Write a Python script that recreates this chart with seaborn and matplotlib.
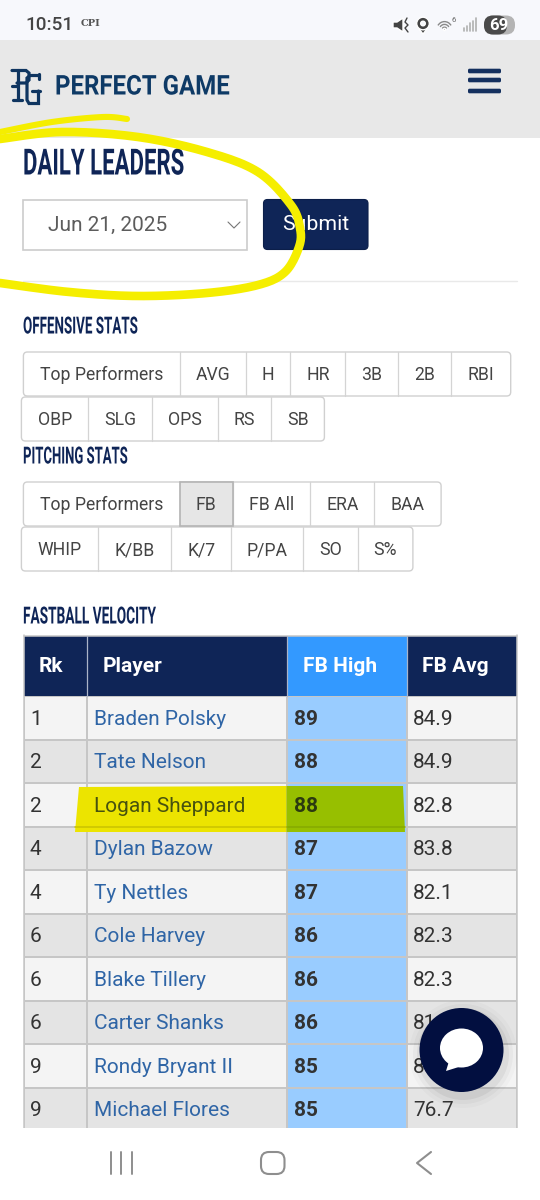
import numpy as np
import seaborn as sns
import matplotlib
matplotlib.use("Agg")
import matplotlib.pyplot as plt
from matplotlib.colors import ListedColormap
from matplotlib.patches import Arc, Circle, Ellipse, FancyBboxPatch, Polygon, Rectangle
from matplotlib.patheffects import AbstractPathEffect
from matplotlib.transforms import Affine2D

# table data
ranks = ["1", "2", "2", "4", "4", "6", "6", "6", "9", "9"]
players = ["Braden Polsky", "Tate Nelson", "Logan Sheppard", "Dylan Bazow", "Ty Nettles",
           "Cole Harvey", "Blake Tillery", "Carter Shanks", "Rondy Bryant II", "Michael Flores"]
fb_high = [89, 88, 88, 87, 87, 86, 86, 86, 85, 85]
fb_avg = [84.9, 84.9, 82.8, 83.8, 82.1, 82.3, 82.3, 81.9, 80.5, 76.7]
table_headers = ["Rk", "Player", "FB High", "FB Avg"]

# button labels
offense_1 = ["Top Performers", "AVG", "H", "HR", "3B", "2B", "RBI"]
offense_2 = ["OBP", "SLG", "OPS", "RS", "SB"]
pitching_1 = ["Top Performers", "FB", "FB All", "ERA", "BAA"]
pitching_2 = ["WHIP", "K/BB", "K/7", "P/PA", "SO", "S%"]

# layout, in screen pixels
col_edges = [23.5, 87, 286.5, 406.5, 517]
header_x = [39, 103, 303, 422]
header_top, body_top, row_h, body_bottom = 636, 696, 43.5, 1128
offense_1_edges = [23.4, 179.8, 245.5, 290.3, 345.4, 398.4, 451.1, 510.7]
offense_2_edges = [21.4, 88.2, 151.5, 217.6, 271.3, 324.4]
pitching_1_edges = [23.4, 179.8, 232.8, 310.3, 374.3, 441.1]
pitching_2_edges = [21.4, 98.1, 170.8, 231.4, 303.4, 358.1, 412.9]

stroke_top = [(127, 119), (103, 117), (52, 122), (0, 132)]
stroke_loop = [(0, 139), (62, 132), (138, 137), (207, 152), (258, 172), (291, 205), (300, 228),
               (299, 247), (285, 272), (258, 285), (207, 293), (138, 296), (69, 292), (0, 283)]

# logo strokes
logo_p = [[(12, 70.5), (26, 70.5), (29, 73), (29, 80), (26, 83), (17, 83)],
          [(17.5, 70), (17.5, 100)], [(13, 100), (22, 100)], [(12, 86), (17, 86)]]
logo_g = [[(39, 75.5), (30, 75.5), (27, 78), (27, 100), (29, 103.5), (38.5, 103.5), (38.5, 91)],
          [(32, 91), (39.5, 91)], [(38.5, 74), (38.5, 79)]]

NAVY = "#0f2557"
HI_BLUE = "#3399ff"
COL_BLUE = "#99ccff"
TEXT = "#333333"
LINK = "#2f65a6"
GRID = "#c6c6c6"
YELLOW = "#f5ee00"
BODY_SIZE = 15.0

sns.set_theme(style="white")
plt.rcParams["font.family"] = ["Roboto", "DejaVu Sans"]

fig = plt.figure(figsize=(5.4, 12), dpi=100, facecolor="white")
ax = fig.add_axes([0, 0, 1, 1], zorder=5)
ax.set_xlim(0, 540)
ax.set_ylim(1200, 0)
ax.axis("off")
renderer = fig.canvas.get_renderer()


class Squeeze(AbstractPathEffect):
    """narrow a text horizontally, the site uses a condensed web font"""
    def __init__(self, sx, x0):
        super().__init__()
        self.tr = Affine2D().translate(-x0, 0).scale(sx, 1).translate(x0, 0)

    def draw_path(self, renderer, gc, tpath, affine, rgbFace=None):
        renderer.draw_path(gc, tpath, affine + self.tr, rgbFace)


def heading(x, y, s, size, width, color=NAVY):
    t = ax.text(x, y, s, fontsize=size, fontweight="bold", color=color, va="center", ha="left", zorder=6)
    sx = width / t.get_window_extent(renderer).width
    t.set_path_effects([Squeeze(sx, x)])
    return t


def smooth(points, n=12):
    # catmull-rom through the hand drawn points
    p = np.array(points, dtype=float)
    p = np.vstack([p[0], p, p[-1]])
    out = []
    for i in range(1, len(p) - 2):
        for t in np.linspace(0, 1, n, endpoint=False):
            out.append(0.5 * (2 * p[i] + (p[i + 1] - p[i - 1]) * t
                              + (2 * p[i - 1] - 5 * p[i] + 4 * p[i + 1] - p[i + 2]) * t ** 2
                              + (3 * p[i] - p[i - 1] - 3 * p[i + 1] + p[i + 2]) * t ** 3))
    out.append(p[-1])
    return np.array(out)


def button_group(labels, edges, top, active=None):
    h = 44
    box = FancyBboxPatch((edges[0], top), edges[-1] - edges[0], h, boxstyle="round,pad=0,rounding_size=4",
                         fc="white", ec="#d0d0d0", lw=1.0, zorder=2)
    ax.add_patch(box)
    for i, label in enumerate(labels):
        if i == active:
            ax.add_patch(Rectangle((edges[i], top), edges[i + 1] - edges[i], h, fc="#e6e6e6", ec="#b4b4b4", lw=1.2, zorder=3))
        if i > 0:
            ax.plot([edges[i], edges[i]], [top, top + h], color="#d4d4d4", lw=0.9, zorder=2.5)
        ax.text((edges[i] + edges[i + 1]) / 2, top + h / 2 + 1.2, label, fontsize=12.7, color="#444444",
                ha="center", va="center", zorder=4)


def table_col(x0, x1, header, header_left, header_color, shades, colors):
    # each column is its own little heatmap because widths differ
    h_ax = fig.add_axes([x0 / 540, 1 - body_top / 1200, (x1 - x0) / 540, (body_top - header_top) / 1200])
    sns.heatmap([[0]], ax=h_ax, cmap=ListedColormap([header_color]), cbar=False, xticklabels=False,
                yticklabels=False, linewidths=0)
    b_ax = fig.add_axes([x0 / 540, 1 - body_bottom / 1200, (x1 - x0) / 540, (body_bottom - body_top) / 1200])
    sns.heatmap(np.array(shades).reshape(-1, 1), ax=b_ax, cmap=ListedColormap(colors), vmin=0, vmax=1, cbar=False,
                xticklabels=False, yticklabels=False, linewidths=1.1, linecolor=GRID)
    b_ax.set_ylim((body_bottom - body_top) / row_h, 0)
    ax.text(header_left, (header_top + body_top) / 2 + 0.5, header, fontsize=15, fontweight="bold", color="white",
            ha="left", va="center", zorder=6)


# page bands
ax.add_patch(Rectangle((0, 0), 540, 40, fc="#f7f8fc", ec="none", zorder=0))
ax.add_patch(Rectangle((0, 40), 540, 98, fc="#e8e8e8", ec="none", zorder=0))

# status bar
ax.text(25, 25.5, "10:51", fontsize=13.6, fontweight="medium", color="#444444", va="center", zorder=3)
ax.text(81, 23.5, "CPI", fontsize=7, fontweight="bold", family="DejaVu Serif", color="#555555", va="center", zorder=3)
ax.add_patch(Polygon([(393, 22), (397, 22), (403, 18), (403, 32), (397, 28), (393, 28)], fc="#444444", zorder=3))
ax.plot([407, 405, 408, 405, 408], [18, 22, 25, 28, 32], color="#444444", lw=1.0, zorder=3)
ax.add_patch(Polygon([(417.5, 27), (428.5, 27), (423, 34)], fc="#444444", zorder=3))
ax.add_patch(Circle((423, 23.5), 6.3, fc="#444444", zorder=3))
ax.add_patch(Circle((423, 23.5), 2.3, fc="#f7f8fc", zorder=3.1))
for r in [4, 8, 12]:
    ax.add_patch(Arc((444.5, 30), r * 1.3, r * 1.4, theta1=215, theta2=325, color="#8a8a8a", lw=1.0, zorder=3))
ax.add_patch(Circle((444.5, 29.5), 1.1, fc="#8a8a8a", zorder=3))
ax.text(453.5, 20.5, "6", fontsize=5.5, color="#666666", ha="center", va="center", zorder=3)
for i, h in enumerate([3, 5, 8, 10, 13]):
    ax.plot([463.5 + i * 3, 463.5 + i * 3], [31, 31 - h], color="#b0b0b0", lw=1.2, zorder=3)
ax.add_patch(FancyBboxPatch((484, 15.5), 31, 19, boxstyle="round,pad=0,rounding_size=9", fc="#b4b4b4", ec="none", zorder=3))
ax.add_patch(FancyBboxPatch((484, 15.5), 23, 19, boxstyle="round,pad=0,rounding_size=9", fc="#4a4a4a", ec="none", zorder=3.1))
ax.text(499, 25.5, "69", fontsize=12, fontweight="bold", color="white", ha="center", va="center", zorder=4)

# logo and menu
for stroke in logo_p + logo_g:
    xs, ys = zip(*stroke)
    ax.plot(xs, ys, color="#0f3560", lw=2.3, solid_joinstyle="miter", zorder=3)
heading(55, 87, "PERFECT GAME", 19.6, 175, color="#0e3a66")
for y in [71, 80, 91]:
    ax.add_patch(FancyBboxPatch((468, y - 2.3), 33, 4.6, boxstyle="round,pad=0,rounding_size=1.5", fc="#14305f", ec="none", zorder=3))

# date form
heading(23, 164.5, "DAILY LEADERS", 26, 161)
ax.add_patch(Rectangle((23, 199.5), 224, 50, fc="white", ec="#cccccc", lw=1.2, zorder=2))
ax.text(48, 225, "Jun 21, 2025", fontsize=15, color="#5c5c5c", va="center", zorder=3)
ax.plot([228, 234, 240], [222, 228, 222], color="#777777", lw=0.8, zorder=3)
ax.add_patch(FancyBboxPatch((263.5, 199.5), 104.5, 50, boxstyle="round,pad=0,rounding_size=4", fc=NAVY, ec="#0c1f4a", lw=0.8, zorder=2))
ax.text(316, 225, "Submit", fontsize=15.3, color="white", ha="center", va="center", zorder=3)
ax.plot([23, 517], [281, 281], color="#e9e9e9", lw=1.0, zorder=1)

# stat buttons
heading(23, 327, "OFFENSIVE STATS", 17, 115)
button_group(offense_1, offense_1_edges, 352)
button_group(offense_2, offense_2_edges, 397)
heading(23, 457, "PITCHING STATS", 17, 105)
button_group(pitching_1, pitching_1_edges, 482, active=1)
button_group(pitching_2, pitching_2_edges, 527)
heading(23, 617, "FASTBALL VELOCITY", 17, 133)

# table, shades alternate by row
shades = [i % 2 for i in range(len(players))]
light_dark = ["#f4f4f4", "#e4e4e4"]
table_col(col_edges[0], col_edges[1], table_headers[0], header_x[0], NAVY, shades, light_dark)
table_col(col_edges[1], col_edges[2], table_headers[1], header_x[1], NAVY, shades, light_dark)
table_col(col_edges[2], col_edges[3], table_headers[2], header_x[2], HI_BLUE, shades, [COL_BLUE, COL_BLUE])
table_col(col_edges[3], col_edges[4], table_headers[3], header_x[3], NAVY, shades, light_dark)
ax.plot([col_edges[0]] * 2, [635, body_bottom], color=GRID, lw=1.1, zorder=1.5)
ax.plot([col_edges[-1]] * 2, [635, body_bottom], color=GRID, lw=1.1, zorder=1.5)
ax.plot([col_edges[0], col_edges[-1]], [635.5, 635.5], color=GRID, lw=1.1, zorder=1.5)
for x in col_edges[1:-1]:
    ax.plot([x, x], [header_top, body_top], color="#aab4c8", lw=0.9, zorder=1.5)

# marker highlight on the Logan Sheppard row
ax.add_patch(Polygon([(79, 787), (col_edges[2], 786), (col_edges[2], 832), (75, 832)], fc="#ece400", ec="none", zorder=2))
ax.add_patch(Polygon([(col_edges[2], 786), (403, 786), (405, 832), (col_edges[2], 832)], fc="#97bf00", ec="none", zorder=2))
ax.plot([75, col_edges[2]], [827, 827], color="#c9c300", lw=1.1, zorder=2.1)
ax.plot([col_edges[2], 405], [827, 827], color="#86aa00", lw=1.1, zorder=2.1)

for i in range(len(players)):
    y = body_top + (i + 0.5) * row_h + 1.5
    marked = players[i] == "Logan Sheppard"
    ax.text(30, y, ranks[i], fontsize=BODY_SIZE, color=TEXT, va="center", zorder=3)
    ax.text(94, y, players[i], fontsize=BODY_SIZE, color="#47520f" if marked else LINK, va="center", zorder=3)
    ax.text(294, y, str(fb_high[i]), fontsize=BODY_SIZE, fontweight="bold", color="#2c3a10" if marked else TEXT, va="center", zorder=3)
    ax.text(413, y, f"{fb_avg[i]:.1f}", fontsize=BODY_SIZE, color=TEXT, va="center", zorder=3)

# yellow circle drawn over the form
top_pts = smooth(stroke_top)
loop_pts = smooth(stroke_loop)
ax.plot(top_pts[:, 0], top_pts[:, 1], color=YELLOW, lw=4.4, solid_capstyle="round", zorder=7)
ax.plot(loop_pts[:, 0], loop_pts[:, 1], color=YELLOW, lw=6.2, solid_capstyle="round", zorder=7)

# bottom bar
ax.add_patch(Rectangle((0, body_bottom), 540, 1200 - body_bottom, fc="white", ec="none", zorder=4))
for x in [111, 121, 131.5]:
    ax.plot([x, x], [1152, 1174], color="#8e8e8e", lw=1.4, zorder=5)
ax.add_patch(FancyBboxPatch((261, 1152), 23.5, 22, boxstyle="round,pad=0,rounding_size=8", fc="none", ec="#8e8e8e", lw=1.5, zorder=5))
ax.plot([431, 417, 431], [1152, 1163, 1174], color="#8e8e8e", lw=1.5, zorder=5)

# chat bubble
for r, a in [(54, 0.02), (50, 0.03), (46, 0.05)]:
    ax.add_patch(Circle((463, 1054), r, fc="black", ec="none", alpha=a, zorder=8))
ax.add_patch(Circle((461.5, 1050), 42, fc="#020f40", ec="none", zorder=9))
ax.add_patch(Ellipse((461.5, 1048), 43, 39, fc="white", ec="none", zorder=10))
ax.add_patch(Polygon([(450, 1058), (446, 1071), (462, 1066)], fc="white", ec="none", zorder=10))

fig.savefig("out.png", dpi=100)
